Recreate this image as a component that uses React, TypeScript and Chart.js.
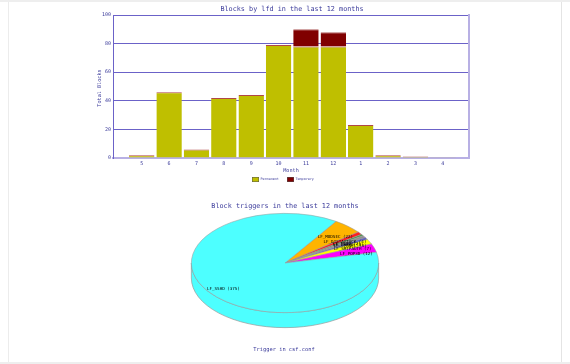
import React, { useEffect, useRef } from 'react';
import { Chart, registerables } from 'chart.js';

Chart.register(...registerables);

// ---- Bar chart data ----
const months = ['5', '6', '7', '8', '9', '10', '11', '12', '1', '2', '3', '4'];
const permanent = [2, 46, 6, 42, 44, 79, 78, 78, 23, 2, 1, 0.3];
const temporary = [0, 0, 0, 0, 0, 0, 12, 10, 0, 0, 0, 0];
const yTickStep = 20;
const yMax = 100;

// ---- Pie chart data ----
const triggerLabels = ['LF_MODSEC', 'LF_DISTATTACK', 'LF_FTPD', 'LF_IMAPD', 'LF_CPANEL', 'LF_SMTPAUTH', 'LF_POP3D', 'LF_SSHD'];
const triggerCounts = [22, 4, 2, 3, 3, 7, 12, 375];
const triggerColors = ['#ffb400', '#ff2020', '#3c9a3c', '#909090', '#6060c0', '#ffff00', '#ff00ff', '#4dffff'];

const FONT = "'DejaVu Sans Mono', monospace";
const TEXT = '#3a3a9a';
const GRID = '#6b62c8';
const FRAME = '#b8b0e4';

const W = 570;
const H = 364;

const barText = {
  id: 'barText',
  afterDraw(chart: any) {
    const ctx = chart.ctx;
    const a = chart.chartArea;
    ctx.save();
    ctx.strokeStyle = FRAME;
    ctx.lineWidth = 2;
    ctx.beginPath();
    ctx.moveTo(a.right + 1, a.top - 1);
    ctx.lineTo(a.right + 1, a.bottom + 1);
    ctx.stroke();
    ctx.fillStyle = TEXT;
    ctx.textAlign = 'center';
    ctx.textBaseline = 'middle';
    ctx.font = `6.8px ${FONT}`;
    ctx.fillText('Blocks by lfd in the last 12 months', 292, 9.5);
    ctx.font = `5.2px ${FONT}`;
    ctx.fillText('Month', 291, 171);
    ctx.save();
    ctx.translate(100, 88);
    ctx.rotate(-Math.PI / 2);
    ctx.fillText('Total Blocks', 0, 0);
    ctx.restore();
    const ds = chart.data.datasets;
    const items = [
      { x: 252, label: ds[0].label, color: ds[0].backgroundColor },
      { x: 287, label: ds[1].label, color: ds[1].backgroundColor },
    ];
    ctx.font = `3.4px ${FONT}`;
    ctx.textAlign = 'left';
    items.forEach((it) => {
      ctx.fillStyle = it.color;
      ctx.fillRect(it.x, 177, 7, 5);
      ctx.strokeStyle = '#555';
      ctx.lineWidth = 0.5;
      ctx.strokeRect(it.x + 0.25, 177.25, 6.5, 4.5);
      ctx.fillStyle = TEXT;
      ctx.fillText(it.label, it.x + 8.5, 179.5);
    });
    ctx.restore();
  },
};

const K = 0.53; // vertical squash of the pie
const DEPTH = 15;
const PIE_CY = 263;

const pie3d = {
  id: 'pie3d',
  beforeDatasetsDraw(chart: any) {
    const ctx = chart.ctx;
    const arcs = chart.getDatasetMeta(0).data;
    if (!arcs.length) return;
    const cx = arcs[0].x;
    const cy = arcs[0].y;
    const R = arcs[0].outerRadius;
    const ry = R * K;
    ctx.save();
    arcs.forEach((arc: any, i: number) => {
      const a1 = arc.startAngle;
      const a2 = arc.endAngle;
      for (let k = -2; k <= 2; k++) {
        const off = k * 2 * Math.PI;
        const s = Math.max(a1, off);
        const e = Math.min(a2, off + Math.PI);
        if (e > s) {
          const ss = s - off;
          const ee = e - off;
          ctx.beginPath();
          ctx.ellipse(cx, cy, R, ry, 0, ss, ee, false);
          ctx.lineTo(cx + R * Math.cos(ee), cy + ry * Math.sin(ee) + DEPTH);
          ctx.ellipse(cx, cy + DEPTH, R, ry, 0, ee, ss, true);
          ctx.closePath();
          ctx.fillStyle = triggerColors[i];
          ctx.fill();
          ctx.strokeStyle = '#9a9a9a';
          ctx.lineWidth = 0.7;
          ctx.stroke();
        }
      }
    });
    ctx.restore();
    ctx.save();
    ctx.translate(cx, cy);
    ctx.scale(1, K);
    ctx.translate(-cx, -cy);
  },
  afterDatasetsDraw(chart: any) {
    const ctx = chart.ctx;
    ctx.restore();
    const arcs = chart.getDatasetMeta(0).data;
    const labels = chart.data.labels;
    const values = chart.data.datasets[0].data;
    ctx.save();
    ctx.fillStyle = '#000';
    ctx.font = `4.2px ${FONT}`;
    ctx.textAlign = 'center';
    ctx.textBaseline = 'middle';
    arcs.forEach((arc: any, i: number) => {
      const mid = (arc.startAngle + arc.endAngle) / 2;
      const f = 0.8;
      const x = arc.x + Math.cos(mid) * arc.outerRadius * f;
      const y = arc.y + Math.sin(mid) * arc.outerRadius * K * f + 3;
      ctx.fillText(`${labels[i]} (${values[i]})`, x, y);
    });
    ctx.fillStyle = TEXT;
    ctx.font = `6.8px ${FONT}`;
    ctx.fillText('Block triggers in the last 12 months', 285, 206);
    ctx.font = `5.4px ${FONT}`;
    ctx.fillText('Trigger in csf.conf', 284, 350);
    ctx.restore();
  },
};

export default function App() {
  const barRef = useRef<HTMLCanvasElement>(null);
  const pieRef = useRef<HTMLCanvasElement>(null);

  useEffect(() => {
    const bar = new Chart(barRef.current!, {
      type: 'bar',
      data: {
        datasets: [
          {
            label: 'Permanent',
            data: permanent.map((v, i) => ({ x: i, y: v })),
            backgroundColor: '#bfbf00',
            borderColor: '#b04848',
            borderWidth: { top: 1, left: 0, right: 0, bottom: 0 },
            categoryPercentage: 1,
            barPercentage: 0.93,
          },
          {
            label: 'Temporary',
            data: temporary.map((v, i) => ({ x: i, y: v })),
            backgroundColor: '#800000',
            borderColor: '#b06060',
            borderWidth: { top: 1, left: 0, right: 0, bottom: 0 },
            categoryPercentage: 1,
            barPercentage: 0.93,
          },
        ],
      } as any,
      options: {
        animation: false,
        responsive: false,
        maintainAspectRatio: false,
        layout: { padding: { left: 0, top: 15, right: W - 468, bottom: 0 } },
        scales: {
          x: {
            type: 'linear',
            min: -1.05,
            max: 11.92,
            stacked: true,
            offset: false,
            grid: { display: false, drawTicks: false },
            border: { display: true, color: FRAME, width: 2 },
            afterBuildTicks: (scale: any) => {
              scale.ticks = months.map((_, i) => ({ value: i }));
            },
            ticks: {
              callback: (v: any) => months[v] ?? '',
              font: { size: 5, family: FONT },
              color: TEXT,
              padding: 3,
              maxRotation: 0,
              autoSkip: false,
            },
            afterFit: (s: any) => {
              s.height = 32;
            },
          },
          y: {
            min: 0,
            max: yMax,
            stacked: true,
            ticks: {
              stepSize: yTickStep,
              font: { size: 5, family: FONT },
              color: TEXT,
              padding: 2,
            },
            grid: { color: GRID, drawTicks: false },
            border: { display: true, color: GRID },
            afterFit: (s: any) => {
              s.width = 113;
            },
          },
        } as any,
        plugins: {
          legend: { display: false },
          title: { display: false },
          tooltip: { enabled: false },
        },
      },
      plugins: [barText],
    });

    const pie = new Chart(pieRef.current!, {
      type: 'pie',
      data: {
        labels: triggerLabels,
        datasets: [
          {
            data: triggerCounts,
            backgroundColor: triggerColors,
            borderColor: '#9a9a9a',
            borderWidth: 0.7,
          },
        ],
      },
      options: {
        animation: false,
        responsive: false,
        maintainAspectRatio: false,
        rotation: 33,
        layout: { padding: { top: PIE_CY - 94, bottom: H - PIE_CY - 94, left: 191, right: W - 285 - 94 } },
        plugins: {
          legend: { display: false },
          title: { display: false },
          tooltip: { enabled: false },
        },
      },
      plugins: [pie3d],
    });

    return () => {
      bar.destroy();
      pie.destroy();
    };
  }, []);

  return (
    <div style={{ position: 'fixed', left: 0, top: 0, width: W, height: H, background: '#fff', overflow: 'hidden' }}>
      <div style={{ position: 'absolute', left: 0, top: 0, width: W, height: 2, background: '#eeeeee' }} />
      <div style={{ position: 'absolute', left: 0, top: 362, width: W, height: 2, background: '#eeeeee' }} />
      <div style={{ position: 'absolute', left: 8, top: 2, width: 1, height: 360, background: '#ececec' }} />
      <div style={{ position: 'absolute', left: 561, top: 2, width: 1, height: 360, background: '#e4e4e4' }} />
      <canvas ref={barRef} width={W} height={190} style={{ position: 'absolute', left: 0, top: 0 }} />
      <canvas ref={pieRef} width={W} height={H} style={{ position: 'absolute', left: 0, top: 0 }} />
    </div>
  );
}
